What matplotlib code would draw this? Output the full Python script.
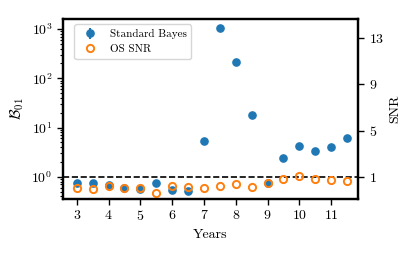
import matplotlib
matplotlib.use('Agg')
import matplotlib.pyplot as plt

plt.rcParams['font.family'] = 'serif'
plt.rcParams['font.serif'] = ['cmr10', 'DejaVu Serif']
plt.rcParams['mathtext.fontset'] = 'cm'
plt.rcParams['axes.formatter.use_mathtext'] = True

# data
years = [3, 3.5, 4, 4.5, 5, 5.5, 6, 6.5, 7, 7.5, 8, 8.5, 9, 9.5, 10, 10.5, 11, 11.5]
bayes = [0.74, 0.74, 0.665, 0.605, 0.57, 0.74, 0.54, 0.52, 5.2, 1050, 213, 17.6,
         0.74, 2.4, 4.15, 3.3, 4.0, 6.0]
bayes_err = [0.0] * len(years)
snr = [0.03, -0.03, 0.25, 0.03, 0.03, -0.4, 0.25, 0.16, 0.08, 0.25, 0.42, 0.16,
       0.46, 0.86, 1.11, 0.86, 0.74, 0.68]

fig = plt.figure(figsize=(4.16, 2.56), dpi=100)
ax = fig.add_axes([0.151, 0.223, 0.710, 0.703])
ax.errorbar(years, bayes, yerr=bayes_err, fmt='o', color='tab:blue', ms=5.2,
            label='Standard Bayes')
ax.axhline(1, color='k', ls='--', lw=1.2)
ax.set_yscale('log')
ax.set_ylim(0.355, 1600)
ax.set_xlim(2.56, 11.85)
ax.set_xticks([3, 4, 5, 6, 7, 8, 9, 10, 11])
ax.set_xlabel('Years', fontsize=10)
ax.set_ylabel(r'$\mathcal{B}_{01}$', fontsize=11)
ax.tick_params(labelsize=10, width=1, length=4)
ax.tick_params(which='minor', width=0.8, length=2.5)
for s in ax.spines.values():
    s.set_linewidth(1.6)

ax2 = ax.twinx()
ax2.plot(years, snr, 'o', mfc='none', mec='tab:orange', mew=1.4, ms=5.2,
         label='OS SNR')
ax2.set_ylim(-0.9, 14.64)
ax2.set_yticks([1, 5, 9, 13])
ax2.set_ylabel('SNR', fontsize=10)
ax2.tick_params(labelsize=10, width=1, length=4)
for s in ax2.spines.values():
    s.set_linewidth(1.6)

h1, l1 = ax.get_legend_handles_labels()
h2, l2 = ax2.get_legend_handles_labels()
ax.legend(h1 + h2, l1 + l2, loc='upper left', fontsize=8, frameon=True,
          bbox_to_anchor=(0.02, 1.0))

fig.savefig('out.png', dpi=100)
